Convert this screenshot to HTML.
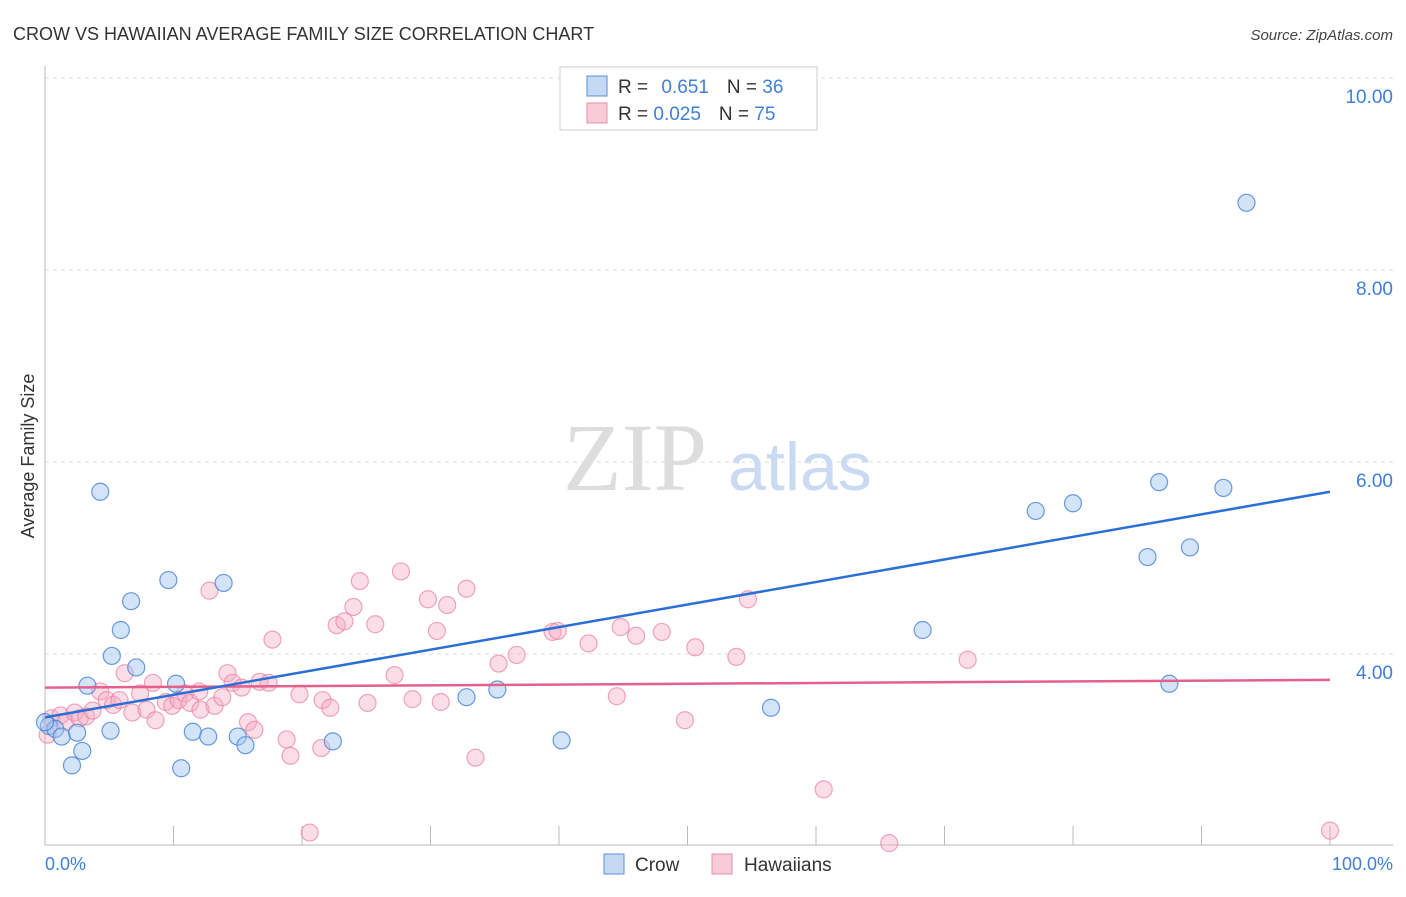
<!DOCTYPE html>
<html><head><meta charset="utf-8"><style>
body{margin:0;background:#fff;font-family:"Liberation Sans",sans-serif}
svg text{font-family:"Liberation Sans",sans-serif}
</style></head><body>
<svg id="chart" width="1406" height="892" xmlns="http://www.w3.org/2000/svg">
<text x="13" y="40" font-size="18" fill="#333">CROW VS HAWAIIAN AVERAGE FAMILY SIZE CORRELATION CHART</text>
<text x="1393" y="40" font-size="15" fill="#444" font-style="italic" text-anchor="end">Source: ZipAtlas.com</text>
<text x="635" y="490" font-size="96" fill="#ddd" text-anchor="middle" style="font-family:'Liberation Serif',serif">ZIP</text>
<text x="800" y="490" font-size="68" fill="#c9daf2" text-anchor="middle">atlas</text>
<g id="grid"></g><g id="marks"></g>
<text transform="translate(34,456) rotate(-90)" font-size="18" fill="#333" text-anchor="middle">Average Family Size</text>
<text x="45" y="870" font-size="18" fill="#3f7fd9">0.0%</text>
<text x="1393" y="870" font-size="18" fill="#3f7fd9" text-anchor="end">100.0%</text>
<g>
<rect x="560" y="67" width="257" height="63" fill="#fff" stroke="#ccc"/>
<rect x="587" y="76" width="20" height="20" fill="#c5d9f5" stroke="#5b8fd9"/>
<rect x="587" y="103" width="20" height="20" fill="#f9cad8" stroke="#e890ab"/>
<text x="618" y="93" font-size="19" fill="#333">R = <tspan fill="#3f7fd9" dx="8">0.651</tspan><tspan fill="#333" dx="18">N = </tspan><tspan fill="#3f7fd9">36</tspan></text>
<text x="618" y="120" font-size="19" fill="#333">R = <tspan fill="#3f7fd9">0.025</tspan><tspan fill="#333" dx="18">N = </tspan><tspan fill="#3f7fd9">75</tspan></text>
</g>
<g>
<rect x="604" y="854" width="20" height="20" fill="#c5d9f5" stroke="#5b8fd9"/>
<text x="635" y="871" font-size="19" fill="#333">Crow</text>
<rect x="712" y="854" width="20" height="20" fill="#f9cad8" stroke="#e890ab"/>
<text x="744" y="871" font-size="19" fill="#333">Hawaiians</text>
</g>
</svg>
<script>
const yTicks=[4,6,8,10];
const yTickLabels=["4.00","6.00","8.00","10.00"];
const crowX=[4.3,9.6,13.9,6.7,5.9,5.2,7.1,3.3,10.2,0.3,0.8,1.3,2.5,5.1,11.5,12.7,15.0,15.6,2.9,2.1,10.6,22.4,32.8,35.2,40.2,56.5,68.3,77.1,80.0,85.8,86.7,89.1,91.7,93.5,87.5,0.0];
const crowY=[5.69,4.77,4.74,4.55,4.25,3.98,3.86,3.67,3.69,3.25,3.22,3.14,3.18,3.20,3.19,3.14,3.14,3.05,2.99,2.84,2.81,3.09,3.55,3.63,3.10,3.44,4.25,5.49,5.57,5.01,5.79,5.11,5.73,8.70,3.69,3.29];
const hawX=[0.2,0.5,1.2,1.6,2.3,2.7,3.2,3.7,4.3,4.8,5.3,5.8,6.2,6.8,7.4,7.9,8.4,8.6,9.4,9.9,10.4,10.9,11.3,12.0,12.1,12.8,13.2,13.8,14.2,14.6,15.3,15.8,16.3,16.7,17.4,17.7,18.8,19.1,19.8,20.6,21.5,21.6,22.2,22.7,23.3,24.0,24.5,25.1,25.7,27.2,27.7,28.6,29.8,30.5,30.8,31.3,32.8,33.5,35.3,36.7,39.5,39.9,42.3,44.5,44.8,46.0,48.0,49.8,50.6,53.8,54.7,60.6,65.7,71.8,100.0];
const hawY=[3.16,3.33,3.36,3.29,3.39,3.33,3.35,3.41,3.61,3.52,3.47,3.52,3.80,3.39,3.59,3.42,3.70,3.31,3.50,3.46,3.52,3.59,3.49,3.61,3.42,4.66,3.46,3.55,3.80,3.70,3.65,3.29,3.21,3.71,3.70,4.15,3.11,2.94,3.58,2.14,3.02,3.52,3.44,4.30,4.34,4.49,4.76,3.49,4.31,3.78,4.86,3.53,4.57,4.24,3.50,4.51,4.68,2.92,3.90,3.99,4.23,4.24,4.11,3.56,4.28,4.19,4.23,3.31,4.07,3.97,4.57,2.59,2.03,3.94,2.16];
const crowTrend=[3.34,5.69];
const hawTrend=[3.65,3.73];
const xs=v=>45+v*12.85, ys=v=>654-(v-4)*96;
const NS="http://www.w3.org/2000/svg";
const grid=document.getElementById('grid'), marks=document.getElementById('marks');
function mk(tag,attrs,parent){const e=document.createElementNS(NS,tag);for(const k in attrs)e.setAttribute(k,attrs[k]);parent.appendChild(e);return e;}
yTicks.forEach((t,i)=>{
 const l=mk('line',{x1:45,x2:1393,y1:ys(t),y2:ys(t),stroke:'#ddd','stroke-dasharray':'4,4'},grid);
 
 
 const tx=mk('text',{x:1393,y:ys(t)+25,'font-size':19,fill:'#3f7fd9','text-anchor':'end'},grid);
 tx.textContent=yTickLabels[i];
 
 
});
const ax=mk('path',{d:'M45,66V845H1393',stroke:'#bbb',fill:'none'},grid);


for(let i=1;i<=10;i++){
 const t=mk('line',{x1:xs(i*10),x2:xs(i*10),y1:826,y2:845,stroke:'#bbb'},grid);
 
 
}
hawX.forEach((x,i)=>{
 const c=mk('circle',{cx:xs(x),cy:ys(hawY[i]),r:8.5,fill:'rgba(246,170,195,0.4)',stroke:'rgba(232,130,160,0.7)','stroke-width':1.2},marks);
 
 
});
crowX.forEach((x,i)=>{
 const c=mk('circle',{cx:xs(x),cy:ys(crowY[i]),r:8.5,fill:'rgba(160,195,240,0.45)',stroke:'rgba(70,130,215,0.8)','stroke-width':1.2},marks);
 
 
});
const l1=mk('line',{x1:xs(0),x2:xs(100),y1:ys(hawTrend[0]),y2:ys(hawTrend[1]),stroke:'#e3608b','stroke-width':2.5},marks);


const l2=mk('line',{x1:xs(0),x2:xs(100),y1:ys(crowTrend[0]),y2:ys(crowTrend[1]),stroke:'#2a6fd6','stroke-width':2.5},marks);


</script>
</body></html>
